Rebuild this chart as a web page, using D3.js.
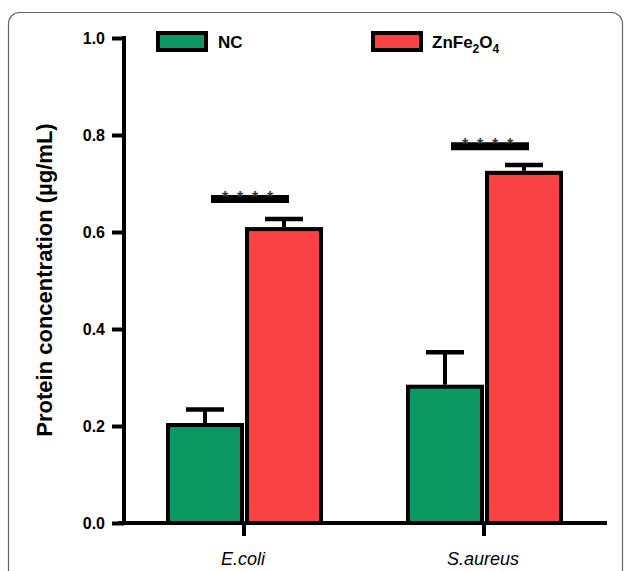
<!DOCTYPE html>
<html>
<head>
<meta charset="utf-8" />
<title>Protein concentration</title>
<script src="https://d3js.org/d3.v7.min.js" charset="utf-8"></script>
<style>
    body { margin: 0; background: #fff; font-family: Arial, "Liberation Sans", sans-serif; }
    .tick text { font-size: 16px; font-weight: bold; }
</style>
</head>
<body>
<svg class="chart"></svg>
<script>

// data
var groups = ["E.coli", "S.aureus"];
var series = ["NC", "ZnFe2O4"];
var ncMeans = [0.202, 0.281];
var ncErrors = [0.032, 0.071];
var znMeans = [0.606, 0.722];
var znErrors = [0.021, 0.016];
var sigLevels = [0.668, 0.777];
var sigStars = ["****", "****"];
var yTicks = [0, 0.2, 0.4, 0.6, 0.8, 1.0];

var colors = { "NC": "#0b9862", "ZnFe2O4": "#f94042" };

var W = 629, H = 571;
var svg = d3.select(".chart").attr("width", W).attr("height", H);

// rounded frame
svg.append("rect")
    .attr("x", 8.5).attr("y", 12.5)
    .attr("width", 614).attr("height", 600)
    .attr("rx", 11)
    .attr("fill", "none")
    .attr("stroke", "#666")
    .attr("stroke-width", 1.2);

var y = d3.scaleLinear().domain([0, 1]).range([523, 38]);
var x = d3.scaleBand().domain(groups).range([124, 604]);

// bars
var bars = [];
groups.forEach(function(g, i) {
    bars.push({ group: g, s: "NC", v: ncMeans[i], e: ncErrors[i], off: -78 });
    bars.push({ group: g, s: "ZnFe2O4", v: znMeans[i], e: znErrors[i], off: 1 });
});

var bw = 78;
var center = function(g) { return x(g) + x.bandwidth() / 2; };

svg.selectAll(".bar")
    .data(bars)
    .enter()
    .append("rect")
    .attr("class", "bar")
    .attr("x", function(d) { return center(d.group) + d.off + 2; })
    .attr("width", bw - 4)
    .attr("y", function(d) { return y(d.v); })
    .attr("height", function(d) { return y(0) - y(d.v); })
    .attr("fill", function(d) { return colors[d.s]; })
    .attr("stroke", "#000")
    .attr("stroke-width", 4);

// error bars (upper only)
svg.selectAll(".err")
    .data(bars)
    .enter()
    .append("line")
    .attr("x1", function(d) { return center(d.group) + d.off + bw / 2; })
    .attr("x2", function(d) { return center(d.group) + d.off + bw / 2; })
    .attr("y1", function(d) { return y(d.v) - 2; })
    .attr("y2", function(d) { return y(d.v + d.e); })
    .attr("stroke", "#000")
    .attr("stroke-width", 4);

svg.selectAll(".cap")
    .data(bars)
    .enter()
    .append("line")
    .attr("x1", function(d) { return center(d.group) + d.off + bw / 2 - 19; })
    .attr("x2", function(d) { return center(d.group) + d.off + bw / 2 + 19; })
    .attr("y1", function(d) { return y(d.v + d.e); })
    .attr("y2", function(d) { return y(d.v + d.e); })
    .attr("stroke", "#000")
    .attr("stroke-width", 4.5);

// significance bars
groups.forEach(function(g, i) {
    var c = center(g);
    svg.append("line")
        .attr("x1", c - 33).attr("x2", c + 45)
        .attr("y1", y(sigLevels[i])).attr("y2", y(sigLevels[i]))
        .attr("stroke", "#000")
        .attr("stroke-width", 8);
    sigStars[i].split("").forEach(function(s, k) {
        svg.append("text")
            .attr("x", c - 19 + k * 15)
            .attr("y", y(sigLevels[i]) + 4)
            .attr("text-anchor", "middle")
            .attr("font-size", "16px")
            .attr("font-weight", "bold")
            .attr("fill", "#333")
            .text(s);
    });
});

// y axis
var yAxis = d3.axisLeft(y).tickValues(yTicks).tickFormat(d3.format(".1f"))
    .tickSize(12).tickSizeOuter(0).tickPadding(7);
var gy = svg.append("g").attr("transform", "translate(124,0)").call(yAxis);
gy.select(".domain").remove();
gy.selectAll(".tick line").attr("stroke-width", 4);
gy.append("line").attr("x1", 0).attr("x2", 0)
    .attr("y1", y(1) - 2).attr("y2", y(0) + 2)
    .attr("stroke", "#000").attr("stroke-width", 4);

// x axis
var xAxis = d3.axisBottom(x).tickSize(13).tickSizeOuter(0).tickFormat("");
var gx = svg.append("g").attr("transform", "translate(0," + y(0) + ")").call(xAxis);
gx.select(".domain").remove();
gx.selectAll(".tick line").attr("stroke-width", 4);
gx.append("line").attr("x1", 118).attr("x2", 607)
    .attr("y1", 0).attr("y2", 0)
    .attr("stroke", "#000").attr("stroke-width", 4);

svg.selectAll(".glabel")
    .data(groups)
    .enter()
    .append("text")
    .attr("x", function(d) { return center(d) - 1; })
    .attr("y", 565)
    .attr("text-anchor", "middle")
    .attr("font-size", "18px")
    .attr("font-style", "italic")
    .text(function(d) { return d; });

// y label
svg.append("text")
    .attr("transform", "translate(52,280) rotate(-90)")
    .attr("text-anchor", "middle")
    .attr("font-size", "22px")
    .attr("font-weight", "bold")
    .text("Protein concentration (µg/mL)");

// legend
var legX = [158, 373];
series.forEach(function(s, i) {
    svg.append("rect")
        .attr("x", legX[i]).attr("y", 33)
        .attr("width", 48).attr("height", 17)
        .attr("fill", colors[s])
        .attr("stroke", "#000")
        .attr("stroke-width", 4);
});
svg.append("text").attr("x", 218).attr("y", 48)
    .attr("font-size", "17px").attr("font-weight", "bold").text("NC");
var zt = svg.append("text").attr("x", 432).attr("y", 48)
    .attr("font-size", "17px").attr("font-weight", "bold");
zt.append("tspan").text("ZnFe");
zt.append("tspan").attr("font-size", "12px").attr("dy", 5).text("2");
zt.append("tspan").attr("dy", -5).text("O");
zt.append("tspan").attr("font-size", "12px").attr("dy", 5).text("4");

</script>
</body>
</html>
